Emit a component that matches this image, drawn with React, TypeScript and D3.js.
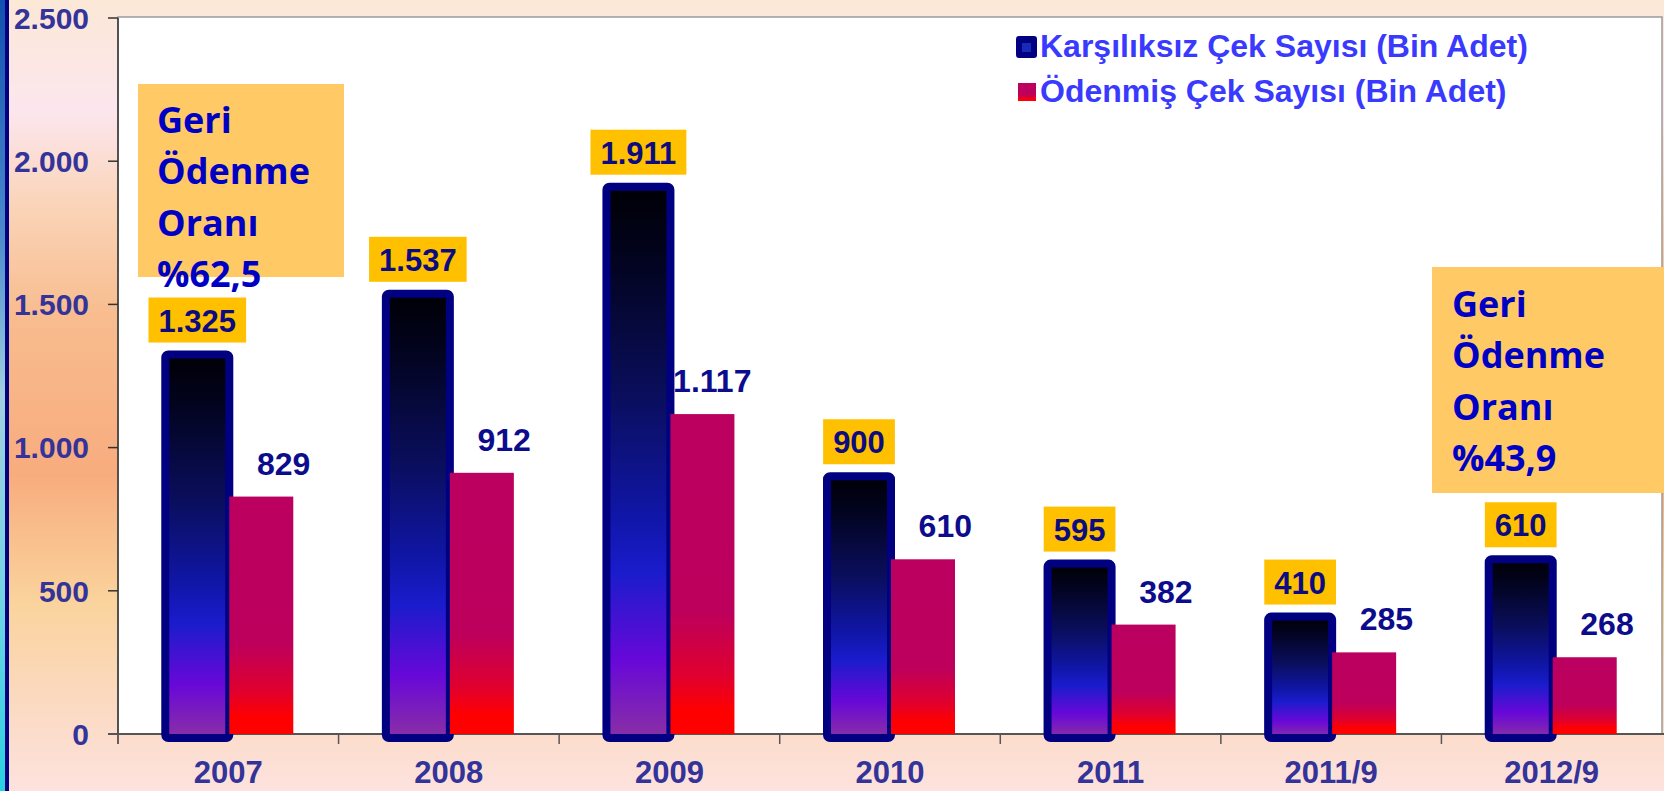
import React, { useEffect, useRef } from "react";
import * as d3 from "d3";

const categories = ["2007", "2008", "2009", "2010", "2011", "2011/9", "2012/9"];
const karsiliksiz = [1325, 1537, 1911, 900, 595, 410, 610];
const odenmis = [829, 912, 1117, 610, 382, 285, 268];
const yTicks = [0, 500, 1000, 1500, 2000, 2500];
const seriesNames = ["Karşılıksız Çek Sayısı (Bin Adet)", "Ödenmiş Çek Sayısı (Bin Adet)"];
const noteLeft = ["Geri", "Ödenme", "Oranı", "%62,5"];
const noteRight = ["Geri", "Ödenme", "Oranı", "%43,9"];

// turkish number format: 1.325
const trLocale = d3.formatLocale({ decimal: ",", thousands: ".", grouping: [3], currency: ["", ""] });
const fmt = trLocale.format(",d");

const NUM_FONT = "'Liberation Sans', Arial, sans-serif";
const NOTE_FONT = "'Open Sans', 'Noto Sans', sans-serif";

const App = () => {
  const ref = useRef<SVGSVGElement>(null);

  useEffect(() => {
    const svg = d3.select(ref.current);
    svg.selectAll("*").remove();

    const W = 1664, H = 791;
    const margin = { top: 18, right: 2, bottom: 57, left: 118 };
    const plotBottom = H - margin.bottom;

    const defs = svg.append("defs");
    const grad = (id, stops) => {
      const g = defs.append("linearGradient").attr("id", id)
        .attr("x1", 0).attr("y1", 0).attr("x2", 0).attr("y2", 1);
      stops.forEach(([o, c]) => g.append("stop").attr("offset", o).attr("stop-color", c));
    };
    grad("bg", [[0, "#fbe8d6"], [0.14, "#fce6ee"], [0.26, "#fad4b8"], [0.4, "#f8bc8e"], [0.6, "#f8ac7e"],
      [0.76, "#fad39c"], [0.88, "#fbd9bf"], [1, "#fde2de"]]);
    grad("strip", [[0, "#1050b0"], [0.3, "#4c8ccc"], [0.5, "#a0d0e0"], [0.75, "#74d4e4"], [1, "#28d0e0"]]);
    grad("blueBar", [[0, "#000006"], [0.12, "#02031c"], [0.38, "#0a0e5c"], [0.6, "#1016a8"], [0.7, "#1a1ccc"],
      [0.86, "#6808d8"], [1, "#8a30a4"]]);
    grad("redBar", [[0, "#bb0060"], [0.62, "#bd005c"], [0.82, "#e0002e"], [0.93, "#ff0000"], [1, "#ff0000"]]);

    // background
    svg.append("rect").attr("width", W).attr("height", H).attr("fill", "url(#bg)");
    svg.append("rect").attr("x", 0).attr("y", 0).attr("width", 5).attr("height", H).attr("fill", "url(#strip)");
    svg.append("rect").attr("x", 5).attr("y", 0).attr("width", 4).attr("height", H).attr("fill", "#000080");

    const x = d3.scaleBand().domain(categories).range([margin.left, W - margin.right]);
    const y = d3.scaleLinear().domain([0, 2500]).range([plotBottom, margin.top]);
    const bw = x.bandwidth();
    const barW = Math.round(bw * 0.29);

    // plot area
    svg.append("rect")
      .attr("x", margin.left).attr("y", margin.top - 1)
      .attr("width", W - margin.right - margin.left).attr("height", plotBottom - margin.top + 1)
      .attr("fill", "#fff").attr("stroke", "#9a9a9a").attr("stroke-width", 1.5);

    // y axis
    const yAxis = svg.append("g");
    yAxis.append("line").attr("x1", margin.left).attr("x2", margin.left)
      .attr("y1", margin.top).attr("y2", plotBottom + 10).attr("stroke", "#333").attr("stroke-width", 1.5);
    yAxis.selectAll("line.tick").data(yTicks).join("line").attr("class", "tick")
      .attr("x1", margin.left - 10).attr("x2", margin.left)
      .attr("y1", (d) => y(d)).attr("y2", (d) => y(d))
      .attr("stroke", "#333").attr("stroke-width", 1.5);
    yAxis.selectAll("text").data(yTicks).join("text")
      .attr("x", 89).attr("y", (d) => y(d)).attr("dy", "0.36em")
      .attr("text-anchor", "end").attr("font-family", NUM_FONT).attr("font-weight", "bold")
      .attr("font-size", 30).attr("fill", "#333399")
      .text((d) => fmt(d));

    // x axis
    const xAxis = svg.append("g");
    xAxis.append("line").attr("x1", margin.left - 10).attr("x2", W)
      .attr("y1", plotBottom).attr("y2", plotBottom).attr("stroke", "#555").attr("stroke-width", 2);
    xAxis.selectAll("line.tick").data(categories.slice(1)).join("line").attr("class", "tick")
      .attr("x1", (d) => x(d)).attr("x2", (d) => x(d))
      .attr("y1", plotBottom).attr("y2", plotBottom + 10)
      .attr("stroke", "#555").attr("stroke-width", 1.5);
    xAxis.selectAll("text").data(categories).join("text")
      .attr("x", (d) => x(d) + bw / 2).attr("y", plotBottom + 49)
      .attr("text-anchor", "middle").attr("font-family", NUM_FONT).attr("font-weight", "bold")
      .attr("font-size", 31).attr("fill", "#333399")
      .text((d) => d);

    const cx = (c) => x(c) + bw / 2;

    // red value labels (drawn under the bars, like the original)
    svg.append("g").selectAll("text").data(categories).join("text")
      .attr("x", (c) => cx(c) + 1 + barW + 17)
      .attr("y", (c, i) => y(odenmis[i]) - 22)
      .attr("text-anchor", "end").attr("font-family", NUM_FONT).attr("font-weight", "bold")
      .attr("font-size", 32).attr("fill", "#0c0c8c")
      .text((c, i) => fmt(odenmis[i]));

    // blue bars
    svg.append("g").selectAll("rect").data(categories).join("rect")
      .attr("x", (c) => cx(c) - barW + 1)
      .attr("y", (c, i) => y(karsiliksiz[i]))
      .attr("width", barW)
      .attr("height", (c, i) => plotBottom + 4 - y(karsiliksiz[i]))
      .attr("rx", 3)
      .attr("fill", "url(#blueBar)")
      .attr("stroke", "#000080").attr("stroke-width", 8);

    // red bars
    svg.append("g").selectAll("rect").data(categories).join("rect")
      .attr("x", (c) => cx(c) + 1)
      .attr("y", (c, i) => y(odenmis[i]))
      .attr("width", barW)
      .attr("height", (c, i) => plotBottom - y(odenmis[i]))
      .attr("fill", "url(#redBar)");

    // blue value labels in gold boxes
    categories.forEach((c, i) => {
      const g = svg.append("g");
      const bx = cx(c) - barW / 2 + 1;
      const bottom = y(karsiliksiz[i]) - 12;
      const box = g.append("rect").attr("fill", "#ffc000");
      const t = g.append("text")
        .attr("x", bx).attr("y", bottom - 11)
        .attr("text-anchor", "middle").attr("font-family", NUM_FONT).attr("font-weight", "bold")
        .attr("font-size", 31).attr("fill", "#0c0c80")
        .text(fmt(karsiliksiz[i]));
      const tw = (t.node() as SVGTextElement).getComputedTextLength();
      box.attr("x", bx - tw / 2 - 10).attr("y", bottom - 45).attr("width", tw + 20).attr("height", 45);
    });

    // legend
    const legend = svg.append("g");
    legend.append("rect").attr("x", 1016).attr("y", 36).attr("width", 21).attr("height", 22).attr("rx", 3).attr("fill", "#000080");
    legend.append("rect").attr("x", 1022).attr("y", 43).attr("width", 9).attr("height", 9).attr("fill", "#1a2ab8");
    legend.append("rect").attr("x", 1018).attr("y", 83).attr("width", 18).attr("height", 18).attr("fill", "url(#redBar)");
    legend.selectAll("text").data(seriesNames).join("text")
      .attr("x", 1040).attr("y", (d, i) => 57 + i * 45)
      .attr("font-family", NUM_FONT).attr("font-weight", "bold").attr("font-size", 32)
      .attr("fill", "#3a3aff")
      .text((d) => d);

    // note boxes
    const note = (lines, bx, by, bwid, bh, tx, ty) => {
      const g = svg.append("g");
      g.append("rect").attr("x", bx).attr("y", by).attr("width", bwid).attr("height", bh).attr("fill", "#ffca66");
      g.selectAll("text").data(lines).join("text")
        .attr("x", tx).attr("y", (d, i) => ty + i * 51.3)
        .attr("font-family", NOTE_FONT).attr("font-weight", "bold").attr("font-size", 36)
        .attr("fill", "#0000c4")
        .text((d) => d);
    };
    note(noteLeft, 138, 84, 206, 193, 157, 133);
    note(noteRight, 1432, 267, 240, 226, 1452, 317);
  }, []);

  return <svg ref={ref} width={1664} height={791} style={{ position: "absolute", left: 0, top: 0 }} />;
};

export default App;
